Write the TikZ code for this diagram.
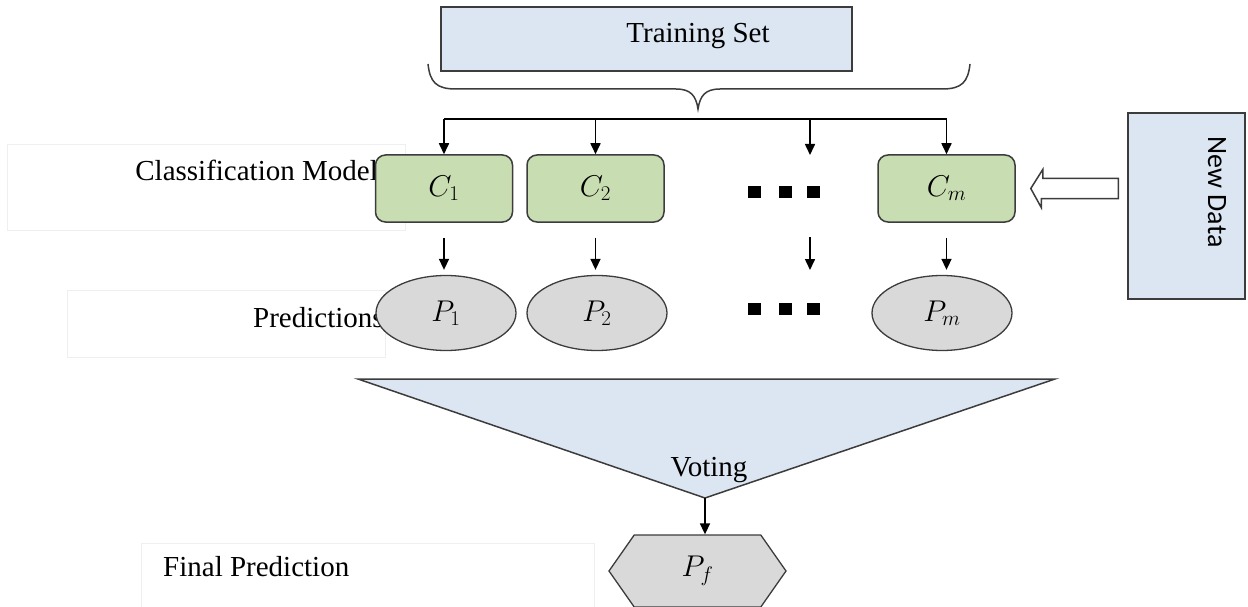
\documentclass[tikz,border=0pt]{standalone}
\usepackage{fix-cm}
\usepackage{fontspec}
\setmainfont{Liberation Serif}
\newfontfamily\calibri{Carlito}
\usetikzlibrary{shapes.geometric, shapes.symbols, arrows.meta, calc}
\definecolor{setblue}{HTML}{DCE6F2}
\definecolor{modelgreen}{HTML}{C9DDB2}
\definecolor{predgray}{HTML}{D9D9D9}
\definecolor{edgegray}{HTML}{3C3C3C}
\definecolor{faint}{HTML}{EFEFEF}
\tikzstyle{dataset} = [rectangle, draw=edgegray, line width=1.5pt, fill=setblue, inner sep=0pt]
\tikzstyle{model} = [rectangle, rounded corners=10pt, minimum width=137pt, minimum height=67pt, draw=edgegray, line width=1.5pt, fill=modelgreen, font=\fontsize{30}{32}\selectfont]
\tikzstyle{pred} = [ellipse, minimum width=140pt, minimum height=75pt, inner sep=0pt, draw=edgegray, line width=1.3pt, fill=predgray, font=\fontsize{30}{32}\selectfont]
\tikzstyle{final} = [signal, signal to=east and west, signal pointer angle=110, minimum width=177pt, minimum height=72pt, inner sep=0pt, draw=edgegray, line width=1.3pt, fill=predgray, font=\fontsize{30}{32}\selectfont]
\tikzstyle{label} = [inner sep=0pt, font=\fontsize{29}{34}\selectfont]
\tikzstyle{arrow} = [line width=1.6pt, -{Triangle[width=10pt,length=11pt]}]
\tikzstyle{hollow} = [draw=edgegray, line width=1.5pt, fill=white, line join=miter]
\tikzstyle{faintbox} = [draw=faint, line width=1pt]

\begin{document}
\begin{tikzpicture}[x=1pt, y=-1pt]
		\useasboundingbox (0,0) rectangle (1248,607);
		% text boxes behind the row labels
		\draw [faintbox] (7,145) rectangle (405,230);
		\draw [faintbox] (67,290) rectangle (385,357);
		\draw [faintbox] (141,543) rectangle (594,612);
		\node [label, anchor=base east] at (378,180) {Classification Model};
		\node [label, anchor=base west] at (253,327) {Predictions};
		\node [label, anchor=base west] at (163,576) {Final Prediction};
		% training set and brace
		\node (train) [dataset, minimum width=411pt, minimum height=64pt] at (646.5,39) {};
		\node [label, anchor=base] at (698,43) {Training Set};
		\draw [edgegray, line width=1.5pt] (428,64) .. controls (430,82) and (436,89) .. (456,89) -- (676,89) .. controls (691,89) and (696,96) .. (698,109) .. controls (700,96) and (705,89) .. (720,89) -- (942,89) .. controls (962,89) and (968,82) .. (970,64);
		% models
		\node (c1) [model] at (444,188.5) {$C_1$};
		\node (c2) [model] at (595.5,188.5) {$C_2$};
		\node (cm) [model] at (946.5,188.5) {$C_m$};
		\coordinate (dtop) at (810,155);
		\coordinate (dmid) at (810,222);
		\coordinate (dbot) at (810,275);
		\coordinate (bus) at (698,119);
		% predictions
		\node (p1) [pred] at (446,313) {$P_1$};
		\node (p2) [pred] at (597,313) {$P_2$};
		\node (pm) [pred] at (942,313) {$P_m$};
		\foreach \x in {754,785,813} {
			\fill (\x-6.5,186) rectangle +(13,12);
			\fill (\x-6.5,303) rectangle +(13,12);
		}
		% new data
		\node (newdata) [dataset, minimum width=117pt, minimum height=186pt] at (1186.5,206) {};
		\node [rotate=-90, inner sep=0pt, font=\calibri\fontsize{28}{32}\selectfont] at (1217,192) {New Data};
		\draw [hollow] ([xshift=15pt]cm.east) -- ++(12,-19) -- ++(0,9) -- ($(newdata.west |- cm.east)+(-9,-10)$) -- ++(0,20) -- ++(-77,0) -- ++(0,9) -- cycle;
		% voting
		\draw [dataset] (358,379) -- (1055,379) -- (705,498) -- cycle;
		\coordinate (vote) at (705,498);
		\node [label, anchor=base] at (709,476) {Voting};
		\node (pf) [final] at (697.5,571) {$P_f$};
		% connectors
		\draw [line width=1.6pt] (c1 |- bus) -- (cm |- bus);
		\foreach \n in {c1,c2,dtop,cm}
			\draw [arrow] (\n |- bus) -- (\n);
		\foreach \n/\m in {c1/p1,c2/p2,cm/pm}
			\draw [arrow, shorten <=15pt, shorten >=5pt] (\n) -- (\n |- \m.north);
		\draw [arrow, shorten <=15pt, shorten >=5pt] (dmid) -- (dbot);
		\draw [arrow] (vote) -- (vote |- pf.north);
	\end{tikzpicture}
\end{document}
